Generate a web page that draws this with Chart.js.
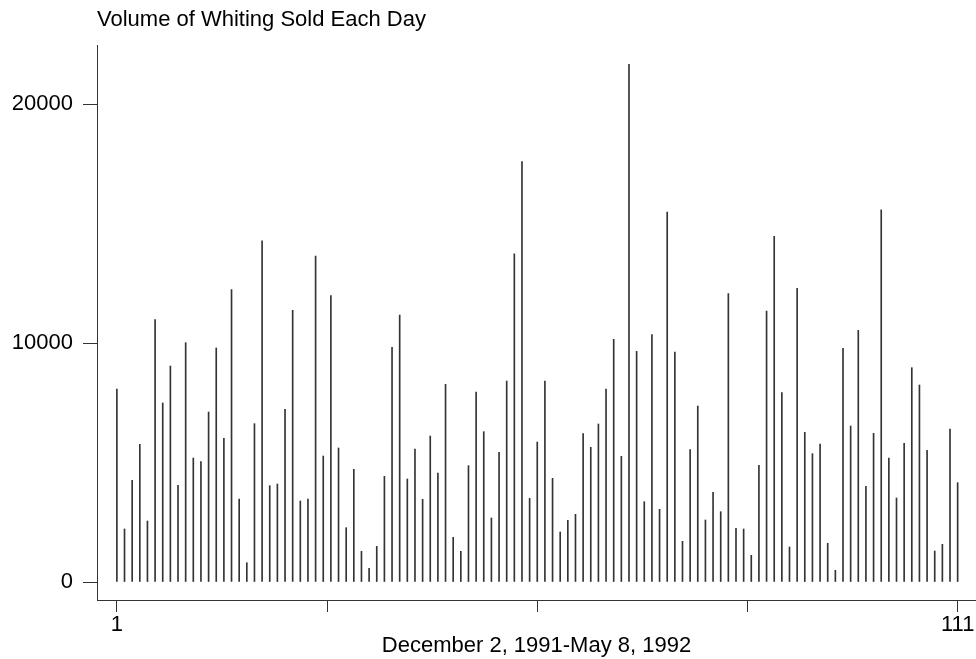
<!DOCTYPE html>
<html>
<head>
<meta charset="utf-8">
<script src="https://cdn.jsdelivr.net/npm/chart.js@4"></script>
<style>
  body { margin: 0; background: #fff; }
  #wrap { width: 976px; height: 659px; }
</style>
</head>
<body>
<div id="wrap"><canvas id="whitingChart" width="976" height="659"></canvas></div>
<script>
// Daily whiting volume, days 1..111 (Dec 2, 1991 - May 8, 1992)
const values = [
  8075, 2218, 4255, 5760, 2552, 10976, 7490, 9038, 4045, 10014,
  5188, 5035, 7113, 9791, 6011, 12232, 3473, 808, 6625, 14280,
  4031, 4100, 7224, 11368, 3389, 3473, 13640, 5272, 11980, 5607,
  2273, 4714, 1283, 572, 1492, 4421, 9819, 11172, 4310, 5565,
  3459, 6109, 4561, 8271, 1869, 1283, 4867, 7950, 6290, 2678,
  5425, 8410, 13736, 17587, 3500, 5858, 8410, 4338, 2092, 2580,
  2831, 6206, 5635, 6611, 8075, 10154, 5258, 21660, 9651, 3361,
  10349, 3040, 15481, 9623, 1701, 5537, 7364, 2594, 3752, 2943,
  12064, 2245, 2218, 1116, 4881, 11339, 14464, 7922, 1464, 12288,
  6262, 5370, 5774, 1618, 488, 9777, 6527, 10530, 4003, 6220,
  15578, 5188, 3515, 5802, 8968, 8243, 5509, 1297, 1576, 6402,
  4156
];
const days = values.map((v, i) => i + 1);

const xTicks = [1, 28.5, 56, 83.5, 111];
const xTickLabels = ['1', '', '', '', '111'];
const yTicks = [0, 10000, 20000];

const chartTitle = 'Volume of Whiting Sold Each Day';
const xTitle = 'December 2, 1991-May 8, 1992';

const FONT = '"Liberation Sans", Arial, Helvetica, sans-serif';
const AXIS = '#333';

// title sits flush with the left edge of the plot, so draw it ourselves
const titlePlugin = {
  id: 'leftTitle',
  afterDraw(chart) {
    const ctx = chart.ctx;
    ctx.save();
    ctx.font = '22px ' + FONT;
    ctx.fillStyle = '#000';
    ctx.textAlign = 'left';
    ctx.textBaseline = 'middle';
    ctx.fillText(chartTitle, chart.chartArea.left, 20);
    ctx.restore();
  }
};

const ctx = document.getElementById('whitingChart').getContext('2d');
new Chart(ctx, {
  type: 'bar',
  data: {
    datasets: [{
      data: values.map((v, i) => ({ x: days[i], y: v })),
      backgroundColor: '#333',
      borderWidth: 0,
      barThickness: 1
    }]
  },
  options: {
    responsive: false,
    animation: false,
    devicePixelRatio: 1,
    layout: { padding: { top: 45, left: 0, right: 0, bottom: 0 } },
    plugins: {
      legend: { display: false },
      tooltip: { enabled: false }
    },
    scales: {
      x: {
        type: 'linear',
        offset: false,
        min: -1.6,
        max: 113.4,
        afterBuildTicks: (scale) => { scale.ticks = xTicks.map(v => ({ value: v })); },
        afterFit: (scale) => { scale.height = 59; },
        ticks: {
          autoSkip: false,
          maxRotation: 0,
          padding: 0,
          color: '#000',
          font: { family: FONT, size: 22 },
          callback: (v, i) => xTickLabels[i]
        },
        grid: { display: true, drawOnChartArea: false, drawTicks: true, tickLength: 12, color: AXIS, offset: false },
        border: { display: true, color: AXIS, width: 1 },
        title: {
          display: true,
          text: xTitle,
          color: '#000',
          font: { family: FONT, size: 22 },
          padding: { top: -4, bottom: 0 }
        }
      },
      y: {
        min: -753,
        max: 22470,
        afterBuildTicks: (scale) => { scale.ticks = yTicks.map(v => ({ value: v })); },
        afterFit: (scale) => { scale.width = 97; },
        ticks: {
          padding: 10,
          color: '#000',
          font: { family: FONT, size: 22 },
          callback: (v) => String(v)
        },
        grid: { display: true, drawOnChartArea: false, drawTicks: true, tickLength: 14, color: AXIS },
        border: { display: true, color: AXIS, width: 1 }
      }
    }
  },
  plugins: [titlePlugin]
});
</script>
</body>
</html>
